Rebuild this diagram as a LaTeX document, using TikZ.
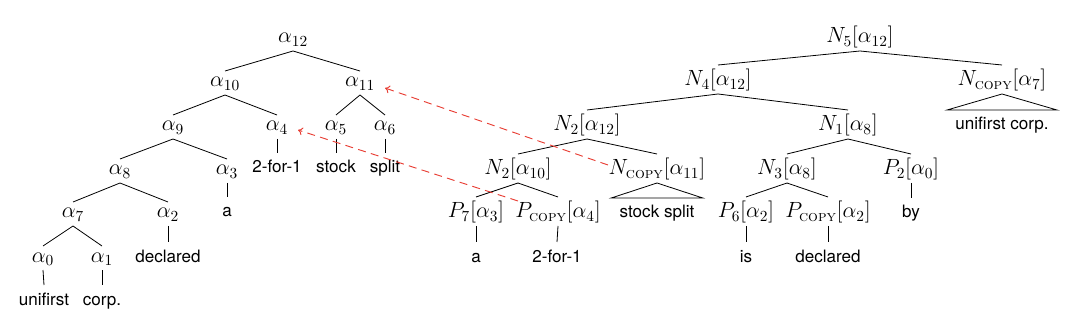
\RequirePackage{fix-cm}
\documentclass[tikz,border=0pt]{standalone}
\usepackage{amsmath}
\usepackage{fontspec}
\newfontfamily\hv{TeX Gyre Heros}
\usetikzlibrary{arrows.meta}
\definecolor{arrred}{RGB}{232,62,52}
\newcommand{\cpy}{\textsc{copy}}
\begin{document}
\begin{tikzpicture}[x=0.75pt,y=-0.75pt,
  am/.style={anchor=base,inner sep=0pt,outer sep=0pt,text height=12pt,text depth=6pt,font=\fontsize{16.5}{18}\selectfont},
  bm/.style={am,text height=15.75pt},
  wd/.style={anchor=base,inner sep=0pt,outer sep=0pt,text height=15pt,text depth=0pt,font=\hv\fontsize{12.8}{15}\selectfont},
  tri/.style={wd,inner xsep=6.3pt},
  edge/.style={line width=0.6pt,black},
  cparrow/.style={arrred,line width=0.7pt,dash pattern=on 6pt off 4pt,-{To[length=3.5pt,width=6pt]}}]
\useasboundingbox (0,0) rectangle (1080,331);
% ---------------- left tree ----------------
\node[am] (a12) at (293,43) {$\alpha_{12}$};
\node[am] (a10) at (225,87) {$\alpha_{10}$};
\node[am] (a11) at (360,87) {$\alpha_{11}$};
\node[am] (a9) at (173,131) {$\alpha_{9}$};
\node[am] (a4) at (277,131) {$\alpha_{4}$};
\node[am] (a5) at (336,131) {$\alpha_{5}$};
\node[am] (a6) at (385,131) {$\alpha_{6}$};
\node[am] (a8) at (120,175) {$\alpha_{8}$};
\node[am] (a3) at (227,175) {$\alpha_{3}$};
\node[am] (a7) at (73,218) {$\alpha_{7}$};
\node[am] (a2) at (168,218) {$\alpha_{2}$};
\node[am] (a0) at (43,262) {$\alpha_{0}$};
\node[am] (a1) at (102,262) {$\alpha_{1}$};
\node[wd] (w4) at (277,173) {2-for-1};
\node[wd] (w5) at (336,173) {stock};
\node[wd] (w6) at (385,173) {split};
\node[wd] (w3) at (227,217) {a};
\node[wd] (w2) at (168,262) {declared};
\node[wd] (w0) at (44,305) {unifirst};
\node[wd] (w1) at (102,305) {corp.};
\foreach \p/\c in {a12/a10,a12/a11,a10/a9,a10/a4,a11/a5,a11/a6,a9/a8,a9/a3,a8/a7,a8/a2,a7/a0,a7/a1,a4/w4,a5/w5,a6/w6,a3/w3,a2/w2,a0/w0,a1/w1}
  \draw[edge] (\p.south) -- (\c.north);
% ---------------- right tree ----------------
\node[bm] (n5) at (860,43) {$N_5[\alpha_{12}]$};
\node[bm] (n4) at (718,86) {$N_4[\alpha_{12}]$};
\node[bm] (nc7) at (1002,86) {$N_{\cpy}[\alpha_{7}]$};
\node[tri] (wc7) at (1002,130) {unifirst corp.};
\node[bm] (n2a) at (587,131) {$N_2[\alpha_{12}]$};
\node[bm] (n1) at (848,131) {$N_1[\alpha_{8}]$};
\node[bm] (n2b) at (518,175) {$N_2[\alpha_{10}]$};
\node[bm] (nc11) at (657,175) {$N_{\cpy}[\alpha_{11}]$};
\node[tri] (wc11) at (657,218) {stock split};
\node[bm] (n3) at (787,175) {$N_3[\alpha_{8}]$};
\node[bm] (p2) at (911,175) {$P_2[\alpha_{0}]$};
\node[wd] (wp2) at (911,218) {by};
\node[bm] (p7) at (476,218) {$P_7[\alpha_{3}]$};
\node[bm] (pc4) at (558,218) {$P_{\cpy}[\alpha_{4}]$};
\node[bm] (p6) at (746,218) {$P_6[\alpha_{2}]$};
\node[bm] (pc2) at (828,218) {$P_{\cpy}[\alpha_{2}]$};
\node[wd] (wp7) at (476,262) {a};
\node[wd] (wpc4) at (557,262) {2-for-1};
\node[wd] (wp6) at (746,262) {is};
\node[wd] (wpc2) at (828,262) {declared};
\foreach \p/\c in {n5/n4,n5/nc7,n4/n2a,n4/n1,n2a/n2b,n2a/nc11,n2b/p7,n2b/pc4,n1/n3,n1/p2,n3/p6,n3/pc2,p2/wp2,p7/wp7,pc4/wpc4,p6/wp6,pc2/wpc2}
  \draw[edge] (\p.south) -- (\c.north);
\draw[edge] (nc11.south) -- (wc11.north west) -- (wc11.north east) -- cycle;
\draw[edge] (nc7.south) -- (wc7.north west) -- (wc7.north east) -- cycle;
% ---------------- copy arrows ----------------
\coordinate (s1) at (608,165);
\coordinate (e1) at (385,88);
\coordinate (s2) at (518,201);
\coordinate (e2) at (298,130);
\draw[cparrow] (s1) -- (e1);
\draw[cparrow] (s2) -- (e2);
\end{tikzpicture}
\end{document}
